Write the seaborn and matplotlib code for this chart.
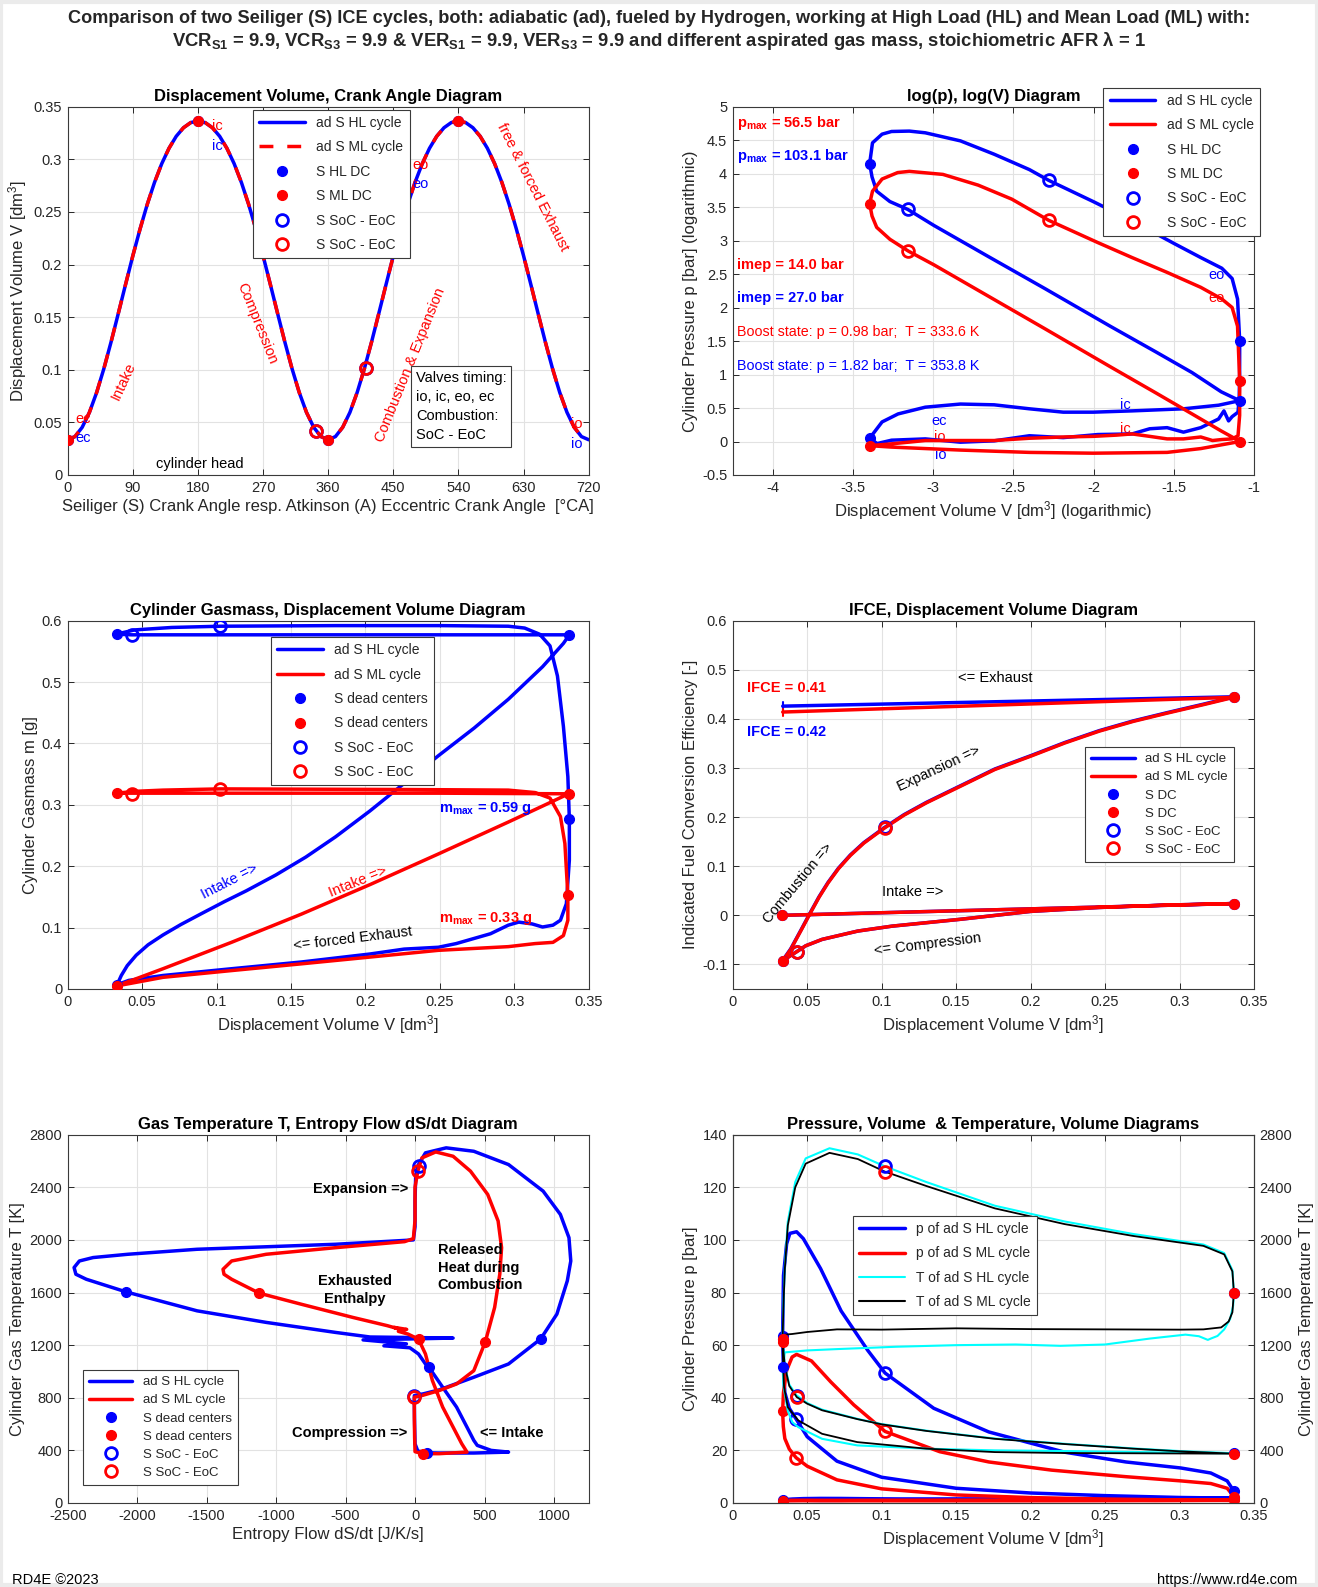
import numpy as np
import matplotlib
matplotlib.use("Agg")
import matplotlib.pyplot as plt
import seaborn as sns
from matplotlib.lines import Line2D
from matplotlib.patches import Rectangle

# ============================ DATA ============================
# Panel 1: displacement volume vs crank angle (same geometry for HL and ML)
crank_angle = list(range(0, 721, 10))
disp_volume = [0.0335, 0.0365, 0.0453, 0.0595, 0.0784, 0.1011, 0.1266, 0.1537, 0.1812, 0.2083, 0.2338, 0.2573,
               0.2781, 0.2959, 0.3105, 0.3219, 0.3300, 0.3349, 0.3365,
               0.3349, 0.3300, 0.3219, 0.3105, 0.2959, 0.2781, 0.2573, 0.2338, 0.2083, 0.1812, 0.1537, 0.1266,
               0.1011, 0.0784, 0.0595, 0.0453, 0.0365, 0.0335,
               0.0365, 0.0453, 0.0595, 0.0784, 0.1011, 0.1266, 0.1537, 0.1812, 0.2083, 0.2338, 0.2573,
               0.2781, 0.2959, 0.3105, 0.3219, 0.3300, 0.3349, 0.3365,
               0.3349, 0.3300, 0.3219, 0.3105, 0.2959, 0.2781, 0.2573, 0.2338, 0.2083, 0.1812, 0.1537, 0.1266,
               0.1011, 0.0784, 0.0595, 0.0453, 0.0365, 0.0335]
dc_angle = [0, 180, 360, 540]
dc_volume = [0.0335, 0.3365, 0.0335, 0.3365]
soc_eoc_angle = [343, 412]
soc_eoc_volume = [0.0419, 0.1018]

# Pressure-volume cycle, HL (high load)
hl_int_V = [0.0335, 0.0362, 0.0400, 0.0474, 0.0590, 0.0728, 0.0907, 0.1120, 0.1350, 0.1720, 0.2370, 0.2950, 0.3365]
hl_int_p = [1.05, 1.34, 1.51, 1.67, 1.75, 1.73, 1.63, 1.55, 1.55, 1.58, 1.63, 1.72, 1.84]
hl_cmp_V = [0.3365, 0.30, 0.25, 0.20, 0.15, 0.10, 0.07, 0.05, 0.0425, 0.038, 0.035, 0.034, 0.0335]
hl_cmp_p = [1.84, 2.10, 2.80, 3.80, 5.60, 9.80, 15.9, 25.2, 32.0, 36.0, 42.0, 52.0, 63.5]
hl_exp_V = [0.0335, 0.0341, 0.0362, 0.0384, 0.0429, 0.0474, 0.059, 0.0728, 0.0907, 0.1023, 0.135, 0.172, 0.223,
            0.264, 0.301, 0.321, 0.332, 0.3365]
hl_exp_p = [63.5, 86.5, 98.5, 102.5, 103.1, 100.5, 89.1, 73.0, 58.0, 49.4, 36.0, 27.0, 19.3, 15.6, 13.3, 11.4, 8.4, 4.5]
hl_exh_V = [0.3365, 0.3363, 0.3355, 0.333, 0.321, 0.314, 0.305, 0.295, 0.264, 0.237, 0.214, 0.192, 0.172, 0.139,
            0.112, 0.0907, 0.0728, 0.059, 0.0474, 0.0384, 0.0351, 0.0335]
hl_exh_p = [4.5, 2.6, 1.95, 1.55, 1.45, 1.36, 1.58, 1.40, 1.23, 1.15, 1.23, 1.21, 1.12, 1.11, 1.06, 1.09, 1.01, 0.99,
            1.04, 1.02, 0.97, 1.05]
# Pressure-volume cycle, ML (mean load)
ml_int_V = [0.0335, 0.0384, 0.059, 0.0907, 0.135, 0.214, 0.264, 0.314, 0.3365]
ml_int_p = [0.94, 0.92, 0.88, 0.85, 0.84, 0.85, 0.90, 0.97, 1.00]
ml_cmp_V = [0.3365, 0.321, 0.30, 0.25, 0.20, 0.15, 0.10, 0.07, 0.05, 0.0426, 0.038, 0.035, 0.034, 0.0335]
ml_cmp_p = [1.00, 1.07, 1.17, 1.51, 2.06, 3.06, 5.38, 8.8, 14.0, 17.2, 20.5, 24.5, 29.0, 34.8]
ml_exp_V = [0.0335, 0.0341, 0.0362, 0.0399, 0.0429, 0.0529, 0.0659, 0.0813, 0.1023, 0.139, 0.172, 0.214, 0.264,
            0.301, 0.321, 0.332, 0.3365]
ml_exp_p = [34.8, 42.0, 50.4, 55.5, 56.5, 54.0, 46.0, 37.3, 27.2, 19.5, 15.6, 12.5, 10.0, 8.4, 7.4, 5.6, 2.46]
ml_exh_V = [0.3365, 0.3364, 0.333, 0.321, 0.301, 0.284, 0.264, 0.237, 0.214, 0.192, 0.172, 0.156, 0.135, 0.112,
            0.0907, 0.0728, 0.059, 0.0474, 0.0384, 0.0335]
ml_exh_p = [2.46, 1.48, 1.09, 1.04, 1.03, 1.015, 1.07, 1.04, 1.04, 1.08, 1.12, 1.10, 1.08, 1.07, 1.05, 1.015, 1.015,
            1.015, 0.966, 0.94]
# p markers
hl_dc_V = [0.0335, 0.3365, 0.0335, 0.3365]
hl_dc_p = [1.05, 1.84, 63.5, 4.5]
ml_dc_V = [0.0335, 0.3365, 0.0335, 0.3365]
ml_dc_p = [0.94, 1.00, 34.8, 2.46]
hl_soc_V = [0.0425, 0.1023]
hl_soc_p = [32.0, 49.4]
ml_soc_V = [0.0426, 0.1023]
ml_soc_p = [17.2, 27.2]

# Temperature-volume cycle
hl_T_int_V = [0.0335, 0.034, 0.035, 0.037, 0.040, 0.044, 0.060, 0.0836, 0.13, 0.176, 0.223, 0.269, 0.316, 0.3365]
hl_T_int = [1032, 900, 830, 700, 615, 577, 488, 438, 413, 400, 395, 388, 380, 378]
T_cmp_V = [0.3365, 0.30, 0.269, 0.223, 0.176, 0.13, 0.10, 0.0836, 0.06, 0.05, 0.043, 0.038, 0.035, 0.0335]
hl_T_cmp = [378, 395, 415, 450, 490, 550, 600, 640, 710, 760, 817, 900, 1050, 1247]
ml_T_cmp = [375, 393, 413, 448, 488, 548, 598, 638, 705, 755, 805, 890, 1040, 1226]
T_exp_V = [0.0335, 0.034, 0.035, 0.037, 0.042, 0.049, 0.065, 0.084, 0.102, 0.13, 0.176, 0.223, 0.269, 0.316, 0.33,
           0.3355, 0.3365]
hl_T_exp = [1247, 1500, 1800, 2140, 2440, 2620, 2697, 2650, 2560, 2440, 2260, 2140, 2045, 1965, 1900, 1770, 1600]
ml_T_exp = [1226, 1480, 1780, 2110, 2400, 2580, 2662, 2615, 2520, 2410, 2240, 2120, 2030, 1955, 1890, 1760, 1600]
hl_T_exh_V = [0.3365, 0.336, 0.334, 0.33, 0.3255, 0.321, 0.319, 0.313, 0.304, 0.28, 0.25, 0.22, 0.19, 0.15, 0.11,
              0.07, 0.05, 0.04, 0.035, 0.0335]
hl_T_exh = [1600, 1500, 1400, 1320, 1270, 1250, 1240, 1268, 1280, 1250, 1205, 1195, 1205, 1200, 1188, 1170, 1160,
            1150, 1145, 1032]
ml_T_int_V = [0.0335, 0.0338, 0.0345, 0.037, 0.044, 0.060, 0.0836, 0.13, 0.176, 0.223, 0.3365]
ml_T_int = [1246, 1050, 880, 728, 628, 526, 463, 413, 387, 380, 375]
ml_T_exh_V = [0.3365, 0.3355, 0.333, 0.328, 0.316, 0.30, 0.25, 0.20, 0.15, 0.10, 0.07, 0.05, 0.04, 0.035, 0.0335]
ml_T_exh = [1600, 1450, 1380, 1335, 1320, 1318, 1320, 1322, 1328, 1318, 1320, 1300, 1285, 1280, 1246]
hl_T_dc = [1032, 378, 1247, 1600]
ml_T_dc = [1246, 375, 1226, 1600]
T_soc_V = [0.043, 0.102]
hl_T_soc = [817, 2560]
ml_T_soc = [805, 2520]

# Gas mass vs volume
hl_m_V = [0.0332, 0.036, 0.040, 0.046, 0.054, 0.064, 0.076, 0.090, 0.105, 0.120, 0.140, 0.160, 0.180, 0.203, 0.226,
          0.249, 0.273, 0.296, 0.319, 0.333, 0.337,
          0.25, 0.15, 0.0429, 0.0332,
          0.036, 0.045, 0.07, 0.1026, 0.18, 0.25, 0.296, 0.307, 0.317, 0.324, 0.329, 0.333, 0.336, 0.337,
          0.337, 0.335, 0.331, 0.326, 0.319, 0.312, 0.303, 0.296, 0.284, 0.261, 0.249, 0.226, 0.203, 0.157, 0.110,
          0.064, 0.041, 0.0332]
hl_m = [0.007, 0.022, 0.038, 0.055, 0.072, 0.088, 0.105, 0.123, 0.142, 0.160, 0.186, 0.215, 0.248, 0.290, 0.335,
        0.380, 0.425, 0.472, 0.525, 0.563, 0.577,
        0.577, 0.577, 0.577, 0.578,
        0.580, 0.585, 0.589, 0.591, 0.592, 0.592, 0.591, 0.588, 0.578, 0.559, 0.510, 0.428, 0.346, 0.277,
        0.210, 0.139, 0.112, 0.104, 0.101, 0.106, 0.109, 0.104, 0.090, 0.074, 0.068, 0.065, 0.057, 0.044, 0.033,
        0.022, 0.014, 0.007]
ml_m_V = [0.033, 0.064, 0.110, 0.157, 0.203, 0.249, 0.296, 0.319, 0.3365,
          0.25, 0.15, 0.0425, 0.033,
          0.045, 0.064, 0.1026, 0.226, 0.296, 0.314, 0.324, 0.331, 0.334, 0.336,
          0.336, 0.333, 0.326, 0.314, 0.296, 0.249, 0.203, 0.157, 0.110, 0.064, 0.033]
ml_m = [0.005, 0.033, 0.076, 0.122, 0.170, 0.220, 0.272, 0.298, 0.318,
        0.319, 0.319, 0.319, 0.319,
        0.322, 0.324, 0.326, 0.325, 0.324, 0.320, 0.311, 0.281, 0.237, 0.153,
        0.112, 0.087, 0.076, 0.074, 0.069, 0.063, 0.052, 0.041, 0.030, 0.019, 0.005]
hl_m_dc_V = [0.0332, 0.337, 0.0332, 0.337]
hl_m_dc = [0.007, 0.577, 0.578, 0.277]
ml_m_dc_V = [0.033, 0.3365, 0.033, 0.336]
ml_m_dc = [0.005, 0.318, 0.319, 0.153]
m_soc_V = [0.0429, 0.1026]
hl_m_soc = [0.576, 0.591]
ml_m_soc = [0.318, 0.326]

# IFCE vs volume
ifce_V = [0.033, 0.3365,
          0.292, 0.246, 0.200, 0.153, 0.107, 0.084, 0.060, 0.049, 0.043, 0.0335,
          0.039, 0.046, 0.052, 0.058, 0.064, 0.071, 0.079, 0.088, 0.097, 0.102, 0.115, 0.130, 0.153, 0.176, 0.200,
          0.223, 0.246, 0.269, 0.292, 0.316, 0.3365, 0.0336]
hl_ifce = [0.0, 0.024,
           0.021, 0.016, 0.008, -0.008, -0.022, -0.032, -0.049, -0.062, -0.074, -0.092,
           -0.068, -0.029, 0.005, 0.038, 0.067, 0.096, 0.123, 0.148, 0.168, 0.179, 0.205, 0.230, 0.264, 0.298, 0.325,
           0.352, 0.376, 0.396, 0.413, 0.430, 0.445, 0.426]
ml_ifce = [0.0, 0.024,
           0.021, 0.016, 0.008, -0.008, -0.022, -0.032, -0.049, -0.062, -0.074, -0.093,
           -0.069, -0.030, 0.004, 0.037, 0.066, 0.095, 0.122, 0.147, 0.167, 0.178, 0.204, 0.229, 0.263, 0.297, 0.324,
           0.351, 0.375, 0.395, 0.412, 0.429, 0.444, 0.414]
ifce_dc_V = [0.033, 0.3365, 0.0335, 0.3365]
hl_ifce_dc = [0.0, 0.024, -0.092, 0.445]
ml_ifce_dc = [0.0, 0.024, -0.093, 0.444]
ifce_soc_V = [0.043, 0.102]
hl_ifce_soc = [-0.074, 0.179]
ml_ifce_soc = [-0.074, 0.178]

# Temperature vs entropy flow
hl_dS = [100, 199, 299, 386, 423, 448, 548, 673, 423, 174, 87,
         20, 0, -3, -5, -5,
         60, 174, 423, 673, 904, 1021, 1096, 1121, 1108, 1046, 922, 673, 423, 224, 75, 25,
         5, 0, 0, -12,
         -573, -1569, -2067, -2317, -2416, -2454, -2441, -2366, -2080, -1569, -1071, -573, -324, 274, -374, -62,
         -224, -37, 25, 75, 100]
hl_T_dS = [1032, 880, 729, 552, 476, 438, 400, 387, 380, 380, 382,
           395, 450, 600, 750, 817,
           830, 860, 956, 1057, 1247, 1436, 1689, 1840, 2017, 2194, 2371, 2573, 2674, 2700, 2662, 2573,
           2497, 2300, 2100, 2000,
           1967, 1929, 1891, 1866, 1840, 1790, 1739, 1701, 1605, 1461, 1373, 1297, 1262, 1254, 1240, 1210,
           1195, 1180, 1133, 1057, 1032]
ml_dS = [25, 75, 125, 199, 274, 336, 374, 174, 55,
         0, -3, -5, -5,
         50, 174, 299, 423, 506, 573, 610, 623, 598, 523, 399, 274, 149, 50, 20,
         0, 0, -12,
         -75, -573, -1071, -1320, -1382, -1375, -1320, -1121, -822, -448, -199, -112, -150, -60, -120, -50, 25]
ml_T_dS = [1246, 1133, 931, 729, 577, 451, 387, 375, 375,
           390, 500, 650, 804,
           817, 855, 905, 1006, 1226, 1487, 1739, 1941, 2144, 2346, 2523, 2636, 2669, 2624, 2523,
           2400, 2150, 2010,
           1987, 1941, 1891, 1840, 1777, 1739, 1701, 1595, 1512, 1411, 1348, 1322, 1335, 1320, 1305, 1284, 1246]
hl_dS_dc = [100, 87, 904, -2080]
hl_T_dS_dc = [1032, 382, 1247, 1605]
ml_dS_dc = [25, 55, 506, -1121]
ml_T_dS_dc = [1246, 375, 1226, 1595]
hl_dS_soc = [-5, 25]
hl_T_dS_soc = [817, 2560]
ml_dS_soc = [-5, 20]
ml_T_dS_soc = [804, 2523]

# ============================ STYLE ============================
sns.set_theme(style="whitegrid")
plt.rcParams['font.family'] = ['Liberation Sans', 'DejaVu Sans']
plt.rcParams['mathtext.fontset'] = 'custom'
plt.rcParams['mathtext.rm'] = 'Liberation Sans'
plt.rcParams['mathtext.it'] = 'Liberation Sans:italic'
plt.rcParams['mathtext.bf'] = 'Liberation Sans:bold'
plt.rcParams['axes.unicode_minus'] = False

BLUE = '#0000FF'
RED = '#FF0000'
CYAN = '#00FFFF'
BLACK = '#000000'
TXT = '#262626'

W, H = 1318, 1587
fig = plt.figure(figsize=(W / 100, H / 100), dpi=100)
fig.patch.set_facecolor('white')
fig.patches.append(Rectangle((0.001, 0.001), 0.998, 0.998, transform=fig.transFigure, fill=False,
                             ec='#EBEBEB', lw=3, zorder=0))


def axes_at(x0, y0, x1, y1):
    return fig.add_axes([x0 / W, 1 - y1 / H, (x1 - x0) / W, (y1 - y0) / H])


LX = (67.7, 588.7)
RX = (732.7, 1254.0)
ROWS = [(106.7, 475.0), (620.7, 989.0), (1134.7, 1503.0)]


def curve(ax, x, y, color, lw=2.5, ls='-', z=2):
    sns.lineplot(x=np.asarray(x, float), y=np.asarray(y, float), ax=ax, sort=False, estimator=None,
                 color=color, linewidth=lw, linestyle=ls, legend=False, zorder=z)


def dots(ax, x, y, color, ms=7.0, z=6):
    ax.plot(x, y, 'o', color=color, mec=color, ms=ms, ls='none', zorder=z)


def rings(ax, x, y, color, ms=8.5, z=6):
    ax.plot(x, y, 'o', mfc='none', mec=color, mew=2.0, ms=ms, ls='none', zorder=z)


def style(ax, title, xlabel, ylabel, xlim, ylim, xticks, yticks, xfmt=None, yfmt=None):
    ax.set_xlim(*xlim)
    ax.set_ylim(*ylim)
    ax.set_xticks(xticks)
    ax.set_yticks(yticks)
    if xfmt:
        ax.set_xticklabels(xfmt)
    if yfmt:
        ax.set_yticklabels(yfmt)
    ax.set_facecolor('white')
    ax.grid(True, color='#E2E2E2', lw=0.8)
    ax.set_axisbelow(True)
    for sp in ax.spines.values():
        sp.set_visible(True)
        sp.set_color('#3a3a3a')
        sp.set_linewidth(0.8)
    ax.tick_params(direction='in', length=4, width=0.7, bottom=True, left=True, top=True, right=True,
                   labelsize=10.5, colors=TXT, pad=4)
    ax.set_title(title, fontsize=12, fontweight='bold', color='black', pad=4)
    ax.set_xlabel(xlabel, fontsize=12, color=TXT, labelpad=3)
    ax.set_ylabel(ylabel, fontsize=12, color=TXT, labelpad=3)


def legend(ax, entries, anchor, loc='upper left', fs=10, ls=0.75, hl=3.3):
    handles, labels = [], []
    for kind, color, label in entries:
        if kind == 'line':
            h = Line2D([0], [0], color=color, lw=2.5)
        elif kind == 'thin':
            h = Line2D([0], [0], color=color, lw=1.5)
        elif kind == 'dash':
            h = Line2D([0], [0], color=color, lw=2.5, linestyle=(0, (4, 4)))
        elif kind == 'dot':
            h = Line2D([0], [0], color=color, marker='o', ms=7, ls='none')
        else:
            h = Line2D([0], [0], color=color, marker='o', mfc='none', mew=2, ms=8.5, ls='none')
        handles.append(h)
        labels.append(label)
    leg = ax.legend(handles, labels, loc=loc, bbox_to_anchor=anchor, fontsize=fs, frameon=True,
                    fancybox=False, framealpha=1, edgecolor='#3a3a3a', labelspacing=ls, handlelength=hl,
                    handletextpad=0.8, borderpad=0.45, borderaxespad=0)
    leg.get_frame().set_linewidth(0.8)
    leg.set_zorder(20)
    for t in leg.get_texts():
        t.set_color(TXT)
    return leg


# ============================ PANEL 1 ============================
ax1 = axes_at(LX[0], ROWS[0][0], LX[1], ROWS[0][1])
curve(ax1, crank_angle, disp_volume, BLUE)
curve(ax1, crank_angle, disp_volume, RED, ls=(0, (4, 4)), z=3)
dots(ax1, dc_angle, dc_volume, BLUE)
dots(ax1, dc_angle, dc_volume, RED, z=7)
rings(ax1, soc_eoc_angle, soc_eoc_volume, BLUE)
rings(ax1, soc_eoc_angle, soc_eoc_volume, RED, z=7)
style(ax1, 'Displacement Volume, Crank Angle Diagram',
      'Seiliger (S) Crank Angle resp. Atkinson (A) Eccentric Crank Angle  [°CA]',
      'Displacement Volume V [dm$^3$]', (0, 720), (0, 0.35), list(range(0, 721, 90)),
      [0, 0.05, 0.1, 0.15, 0.2, 0.25, 0.3, 0.35],
      yfmt=['0', '0.05', '0.1', '0.15', '0.2', '0.25', '0.3', '0.35'])
fs_l = 10.5
for (x, y, s, c) in [(207, 0.332, 'ic', RED), (207, 0.313, 'ic', BLUE), (487, 0.295, 'eo', RED),
                     (487, 0.277, 'eo', BLUE), (21, 0.0536, 'ec', RED), (22, 0.0356, 'ec', BLUE),
                     (704, 0.0482, 'io', RED), (704, 0.0293, 'io', BLUE)]:
    ax1.text(x, y, s, color=c, fontsize=fs_l, ha='center', va='center', zorder=8)
ax1.text(77, 0.0888, 'Intake', color=RED, fontsize=fs_l, rotation=65, ha='center', va='center')
ax1.text(262, 0.1436, 'Compression', color=RED, fontsize=fs_l, rotation=-68, ha='center', va='center')
ax1.text(473, 0.105, 'Combustion & Expansion', color=RED, fontsize=fs_l, rotation=68, ha='center', va='center')
ax1.text(642, 0.2736, 'free & forced Exhaust', color=RED, fontsize=fs_l, rotation=-63, ha='center', va='center')
ax1.text(182, 0.0105, 'cylinder head', color='black', fontsize=fs_l, ha='center', va='center')
ax1.text(481, 0.0985, 'Valves timing:\nio, ic, eo, ec\nCombustion:\nSoC - EoC', color='black', fontsize=fs_l,
         ha='left', va='top', linespacing=1.45,
         bbox=dict(boxstyle='square,pad=0.35', fc='white', ec='#3a3a3a', lw=0.8))
legend(ax1, [('line', BLUE, 'ad S HL cycle'), ('dash', RED, 'ad S ML cycle'), ('dot', BLUE, 'S HL DC'),
             ('dot', RED, 'S ML DC'), ('ring', BLUE, 'S SoC - EoC'), ('ring', RED, 'S SoC - EoC')],
       (0.356, 0.992))

# ============================ PANEL 2 ============================
ax2 = axes_at(RX[0], ROWS[0][0], RX[1], ROWS[0][1])
hl_V_all = hl_int_V + hl_cmp_V + hl_exp_V + hl_exh_V
hl_p_all = hl_int_p + hl_cmp_p + hl_exp_p + hl_exh_p
ml_V_all = ml_int_V + ml_cmp_V + ml_exp_V + ml_exh_V
ml_p_all = ml_int_p + ml_cmp_p + ml_exp_p + ml_exh_p
curve(ax2, np.log(hl_V_all), np.log(hl_p_all), BLUE)
curve(ax2, np.log(ml_V_all), np.log(ml_p_all), RED, z=3)
dots(ax2, np.log(hl_dc_V), np.log(hl_dc_p), BLUE)
dots(ax2, np.log(ml_dc_V), np.log(ml_dc_p), RED)
rings(ax2, np.log(hl_soc_V), np.log(hl_soc_p), BLUE)
rings(ax2, np.log(ml_soc_V), np.log(ml_soc_p), RED)
style(ax2, 'log(p), log(V) Diagram', 'Displacement Volume V [dm$^3$] (logarithmic)',
      'Cylinder Pressure p [bar] (logarithmic)', (-4.25, -1), (-0.5, 5),
      [-4, -3.5, -3, -2.5, -2, -1.5, -1], [-0.5, 0, 0.5, 1, 1.5, 2, 2.5, 3, 3.5, 4, 4.5, 5],
      xfmt=['-4', '-3.5', '-3', '-2.5', '-2', '-1.5', '-1'],
      yfmt=['-0.5', '0', '0.5', '1', '1.5', '2', '2.5', '3', '3.5', '4', '4.5', '5'])
ax2.text(-4.225, 4.76, r'p$_{\mathbf{max}}$ = 56.5 bar', color=RED, fontsize=10.5, fontweight='bold', va='center')
ax2.text(-4.225, 4.26, r'p$_{\mathbf{max}}$ = 103.1 bar', color=BLUE, fontsize=10.5, fontweight='bold', va='center')
ax2.text(-4.225, 2.64, 'imep = 14.0 bar', color=RED, fontsize=10.5, fontweight='bold', va='center')
ax2.text(-4.225, 2.15, 'imep = 27.0 bar', color=BLUE, fontsize=10.5, fontweight='bold', va='center')
ax2.text(-4.225, 1.63, 'Boost state: p = 0.98 bar;  T = 333.6 K', color=RED, fontsize=10.3, va='center')
ax2.text(-4.225, 1.13, 'Boost state: p = 1.82 bar;  T = 353.8 K', color=BLUE, fontsize=10.3, va='center')
for (x, y, s, c) in [(-1.232, 2.49, 'eo', BLUE), (-1.232, 2.15, 'eo', RED), (-1.80, 0.54, 'ic', BLUE),
                     (-1.80, 0.19, 'ic', RED), (-2.96, 0.31, 'ec', BLUE), (-2.96, 0.065, 'io', RED),
                     (-2.95, -0.2, 'io', BLUE)]:
    ax2.text(x, y, s, color=c, fontsize=10.5, ha='center', va='center', zorder=1)
legend(ax2, [('line', BLUE, 'ad S HL cycle'), ('line', RED, 'ad S ML cycle'), ('dot', BLUE, 'S HL DC'),
             ('dot', RED, 'S ML DC'), ('ring', BLUE, 'S SoC - EoC'), ('ring', RED, 'S SoC - EoC')],
       (0.711, 1.052))

# ============================ PANEL 3 ============================
ax3 = axes_at(LX[0], ROWS[1][0], LX[1], ROWS[1][1])
curve(ax3, hl_m_V, hl_m, BLUE)
curve(ax3, ml_m_V, ml_m, RED, z=3)
dots(ax3, hl_m_dc_V, hl_m_dc, BLUE)
dots(ax3, ml_m_dc_V, ml_m_dc, RED)
rings(ax3, m_soc_V, hl_m_soc, BLUE)
rings(ax3, m_soc_V, ml_m_soc, RED)
style(ax3, 'Cylinder Gasmass, Displacement Volume Diagram', 'Displacement Volume V [dm$^3$]',
      'Cylinder Gasmass m [g]', (0, 0.35), (0, 0.6), [0, 0.05, 0.1, 0.15, 0.2, 0.25, 0.3, 0.35],
      [0, 0.1, 0.2, 0.3, 0.4, 0.5, 0.6],
      xfmt=['0', '0.05', '0.1', '0.15', '0.2', '0.25', '0.3', '0.35'],
      yfmt=['0', '0.1', '0.2', '0.3', '0.4', '0.5', '0.6'])
ax3.text(0.2494, 0.2946, r'm$_{\mathbf{max}}$ = 0.59 g', color=BLUE, fontsize=10.5, fontweight='bold', va='center')
ax3.text(0.2494, 0.1146, r'm$_{\mathbf{max}}$ = 0.33 g', color=RED, fontsize=10.5, fontweight='bold', va='center')
ax3.text(0.109, 0.1746, 'Intake =>', color=BLUE, fontsize=10.5, rotation=27, ha='center', va='center')
ax3.text(0.195, 0.1746, 'Intake =>', color=RED, fontsize=10.5, rotation=22, ha='center', va='center')
ax3.text(0.1914, 0.0818, '<= forced Exhaust', color='black', fontsize=10.5, rotation=7, ha='center', va='center')
legend(ax3, [('line', BLUE, 'ad S HL cycle'), ('line', RED, 'ad S ML cycle'), ('dot', BLUE, 'S dead centers'),
             ('dot', RED, 'S dead centers'), ('ring', BLUE, 'S SoC - EoC'), ('ring', RED, 'S SoC - EoC')],
       (0.39, 0.956))

# ============================ PANEL 4 ============================
ax4 = axes_at(RX[0], ROWS[1][0], RX[1], ROWS[1][1])
curve(ax4, ifce_V, hl_ifce, BLUE)
curve(ax4, ifce_V, ml_ifce, RED, z=3)
ax4.plot([0.0336, 0.0336], [0.418, 0.434], color=BLUE, lw=1.5, zorder=4)
ax4.plot([0.0336, 0.0336], [0.405, 0.421], color=RED, lw=1.5, zorder=4)
dots(ax4, ifce_dc_V, hl_ifce_dc, BLUE)
dots(ax4, ifce_dc_V, ml_ifce_dc, RED)
rings(ax4, ifce_soc_V, hl_ifce_soc, BLUE)
rings(ax4, ifce_soc_V, ml_ifce_soc, RED)
style(ax4, 'IFCE, Displacement Volume Diagram', 'Displacement Volume V [dm$^3$]',
      'Indicated Fuel Conversion Efficiency [-]', (0, 0.35), (-0.15, 0.6),
      [0, 0.05, 0.1, 0.15, 0.2, 0.25, 0.3, 0.35], [-0.1, 0, 0.1, 0.2, 0.3, 0.4, 0.5, 0.6],
      xfmt=['0', '0.05', '0.1', '0.15', '0.2', '0.25', '0.3', '0.35'],
      yfmt=['-0.1', '0', '0.1', '0.2', '0.3', '0.4', '0.5', '0.6'])
ax4.text(0.0093, 0.463, 'IFCE = 0.41', color=RED, fontsize=10.5, fontweight='bold', va='center')
ax4.text(0.0093, 0.3736, 'IFCE = 0.42', color=BLUE, fontsize=10.5, fontweight='bold', va='center')
ax4.text(0.1763, 0.4834, '<= Exhaust', color='black', fontsize=10.5, ha='center', va='center')
ax4.text(0.1385, 0.2983, 'Expansion =>', color='black', fontsize=10.5, rotation=25, ha='center', va='center')
ax4.text(0.0441, 0.065, 'Combustion =>', color='black', fontsize=10.5, rotation=50, ha='center', va='center')
ax4.text(0.1206, 0.048, 'Intake =>', color='black', fontsize=10.5, ha='center', va='center')
ax4.text(0.1311, -0.0597, '<= Compression', color='black', fontsize=10.5, rotation=7, ha='center', va='center')
legend(ax4, [('line', BLUE, 'ad S HL cycle'), ('line', RED, 'ad S ML cycle'), ('dot', BLUE, 'S DC'),
             ('dot', RED, 'S DC'), ('ring', BLUE, 'S SoC - EoC'), ('ring', RED, 'S SoC - EoC')],
       (0.676, 0.657), fs=9.5, ls=0.45)

# ============================ PANEL 5 ============================
ax5 = axes_at(LX[0], ROWS[2][0], LX[1], ROWS[2][1])
curve(ax5, hl_dS, hl_T_dS, BLUE)
curve(ax5, ml_dS, ml_T_dS, RED, z=3)
dots(ax5, hl_dS_dc, hl_T_dS_dc, BLUE)
dots(ax5, ml_dS_dc, ml_T_dS_dc, RED)
rings(ax5, hl_dS_soc, hl_T_dS_soc, BLUE)
rings(ax5, ml_dS_soc, ml_T_dS_soc, RED)
style(ax5, 'Gas Temperature T, Entropy Flow dS/dt Diagram', 'Entropy Flow dS/dt [J/K/s]',
      'Cylinder Gas Temperature T [K]', (-2500, 1250), (0, 2800),
      [-2500, -2000, -1500, -1000, -500, 0, 500, 1000], list(range(0, 2801, 400)))
ax5.text(-393, 2384, 'Expansion =>', color='black', fontsize=10.5, fontweight='bold', ha='center', va='center')
ax5.text(162, 1790, 'Released\nHeat during\nCombustion', color='black', fontsize=10.5, fontweight='bold',
         ha='left', va='center', linespacing=1.35)
ax5.text(-431, 1618, 'Exhausted\nEnthalpy', color='black', fontsize=10.5, fontweight='bold', ha='center',
         va='center', linespacing=1.35)
ax5.text(-473, 534, 'Compression =>', color='black', fontsize=10.5, fontweight='bold', ha='center', va='center')
ax5.text(697, 534, '<= Intake', color='black', fontsize=10.5, fontweight='bold', ha='center', va='center')
legend(ax5, [('line', BLUE, 'ad S HL cycle'), ('line', RED, 'ad S ML cycle'), ('dot', BLUE, 'S dead centers'),
             ('dot', RED, 'S dead centers'), ('ring', BLUE, 'S SoC - EoC'), ('ring', RED, 'S SoC - EoC')],
       (0.029, 0.361), fs=9.5, ls=0.45)

# ============================ PANEL 6 ============================
ax6 = axes_at(RX[0], ROWS[2][0], RX[1], ROWS[2][1])
curve(ax6, hl_V_all, hl_p_all, BLUE)
curve(ax6, ml_V_all, ml_p_all, RED, z=3)
dots(ax6, hl_dc_V, hl_dc_p, BLUE)
dots(ax6, ml_dc_V, ml_dc_p, RED)
rings(ax6, hl_soc_V, hl_soc_p, BLUE)
rings(ax6, ml_soc_V, ml_soc_p, RED)
style(ax6, 'Pressure, Volume  & Temperature, Volume Diagrams', 'Displacement Volume V [dm$^3$]',
      'Cylinder Pressure p [bar]', (0, 0.35), (0, 140), [0, 0.05, 0.1, 0.15, 0.2, 0.25, 0.3, 0.35],
      list(range(0, 141, 20)), xfmt=['0', '0.05', '0.1', '0.15', '0.2', '0.25', '0.3', '0.35'])
ax6.tick_params(right=False)
ax6b = ax6.twinx()
curve(ax6b, hl_T_int_V + T_cmp_V + T_exp_V + hl_T_exh_V, hl_T_int + hl_T_cmp + hl_T_exp + hl_T_exh, CYAN, lw=1.5)
curve(ax6b, ml_T_int_V + T_cmp_V + T_exp_V + ml_T_exh_V, ml_T_int + ml_T_cmp + ml_T_exp + ml_T_exh, BLACK, lw=1.3,
      z=3)
dots(ax6b, hl_dc_V, hl_T_dc, BLUE)
dots(ax6b, ml_dc_V, ml_T_dc, RED)
rings(ax6b, T_soc_V, hl_T_soc, BLUE)
rings(ax6b, T_soc_V, ml_T_soc, RED)
ax6b.set_ylim(0, 2800)
ax6b.set_yticks(list(range(0, 2801, 400)))
ax6b.grid(False)
ax6b.tick_params(direction='in', length=4, width=0.7, right=True, labelsize=10.5, colors=TXT, pad=4)
ax6b.set_ylabel('Cylinder Gas Temperature T [K]', fontsize=12, color=TXT, labelpad=5)
for sp in ax6b.spines.values():
    sp.set_visible(True)
    sp.set_color('#3a3a3a')
    sp.set_linewidth(0.8)
legend(ax6b, [('line', BLUE, 'p of ad S HL cycle'), ('line', RED, 'p of ad S ML cycle'),
              ('thin', CYAN, 'T of ad S HL cycle'), ('thin', BLACK, 'T of ad S ML cycle')],
       (0.231, 0.78), fs=10, ls=0.75)

# ============================ TITLES / FOOTER ============================
fig.text(0.5, 1 - 18.5 / H,
         'Comparison of two Seiliger (S) ICE cycles, both: adiabatic (ad), fueled by Hydrogen, working at High Load (HL) and Mean Load (ML) with:',
         ha='center', va='center', fontsize=13.1, fontweight='bold')
fig.text(0.5, 1 - 41 / H,
         r'VCR$_{\mathbf{S1}}$ = 9.9, VCR$_{\mathbf{S3}}$ = 9.9 & VER$_{\mathbf{S1}}$ = 9.9, VER$_{\mathbf{S3}}$ = 9.9 and different aspirated gas mass, stoichiometric AFR λ = 1',
         ha='center', va='center', fontsize=13.3, fontweight='bold')
fig.text(12 / W, 1 - 1580 / H, 'RD4E ©2023', ha='left', va='center', fontsize=10.5, color='black')
fig.text(1297 / W, 1 - 1580 / H, 'https://www.rd4e.com', ha='right', va='center', fontsize=10.5, color='black')

fig.savefig('out.png', dpi=100, facecolor='white')
